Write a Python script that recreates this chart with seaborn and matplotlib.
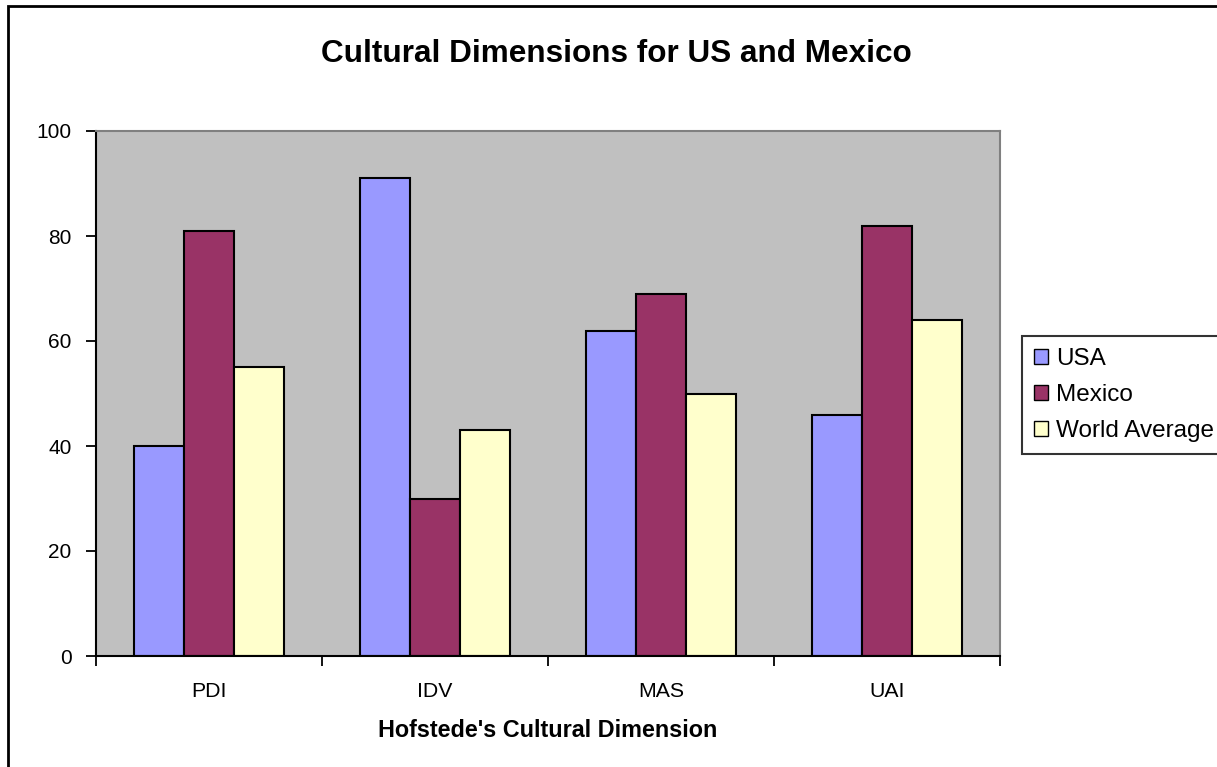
import matplotlib
matplotlib.use("Agg")
import matplotlib.pyplot as plt
from matplotlib.patches import Rectangle
import seaborn as sns
import pandas as pd

categories = ["PDI", "IDV", "MAS", "UAI"]
usa = [40, 91, 62, 46]
mexico = [81, 30, 69, 82]
world_avg = [55, 43, 50, 64]
series_names = ["USA", "Mexico", "World Average"]
colors = ["#9999FF", "#993366", "#FFFFCC"]
yticks = [0, 20, 40, 60, 80, 100]

rows = []
for name, vals in zip(series_names, [usa, mexico, world_avg]):
    for c, v in zip(categories, vals):
        rows.append({"Dimension": c, "Country": name, "Score": v})
df = pd.DataFrame(rows)

plt.rcParams["font.family"] = ["Liberation Sans", "DejaVu Sans"]

W, H = 1217, 767
fig = plt.figure(figsize=(W / 100, H / 100), dpi=100)
fig.patch.set_facecolor("white")
ax = fig.add_axes([96 / W, 1 - 656 / H, (1000 - 96) / W, (656 - 131) / H])
ax.set_facecolor("#C0C0C0")

sns.barplot(data=df, x="Dimension", y="Score", hue="Country", order=categories,
            hue_order=series_names, palette=colors, width=0.664,
            edgecolor="black", linewidth=1.5, saturation=1, ax=ax, errorbar=None)

handles, labels = ax.get_legend_handles_labels()
if ax.get_legend() is not None:
    ax.get_legend().remove()

ax.set_xlim(-0.5, 3.5)
ax.set_ylim(0, 100)
ax.set_yticks(yticks)
ax.set_yticklabels([str(t) for t in yticks], fontsize=15)
ax.set_xticks([-0.5, 0.5, 1.5, 2.5, 3.5])
ax.set_xticklabels([])
ax.set_xticks([0, 1, 2, 3], minor=True)
ax.set_xticklabels(categories, minor=True, fontsize=15.3)
ax.tick_params(axis="x", which="major", direction="out", length=7.5, width=1.3, color="black")
ax.tick_params(axis="x", which="minor", length=0, pad=19)
ax.tick_params(axis="y", direction="out", length=7.5, width=1.3, color="black", pad=10)
ax.set_xlabel("")
ax.set_ylabel("")
for s in ["left", "bottom"]:
    ax.spines[s].set_color("black")
    ax.spines[s].set_linewidth(1.5)
for s in ["top", "right"]:
    ax.spines[s].set_color("#808080")
    ax.spines[s].set_linewidth(1.5)
ax.grid(False)

fig.text(616.5 / W, 1 - 62 / H, "Cultural Dimensions for US and Mexico",
         ha="center", va="baseline", fontsize=22.7, fontweight="bold")
fig.text(548 / W, 1 - 737 / H, "Hofstede's Cultural Dimension",
         ha="center", va="baseline", fontsize=16.8, fontweight="bold")

leg = fig.legend(handles, labels, loc="upper left",
                 bbox_to_anchor=(1022 / W, 1 - 336 / H), bbox_transform=fig.transFigure,
                 frameon=True, fancybox=False, fontsize=17.5, handlelength=0.55,
                 handleheight=0.55, handletextpad=0.35, labelspacing=0.57,
                 borderpad=0.5, borderaxespad=0)
leg.get_frame().set_edgecolor("black")
leg.get_frame().set_linewidth(1.5)
for h in leg.legend_handles:
    h.set_edgecolor("black")
    h.set_linewidth(1.0)

fig.patches.append(Rectangle((8 / W, -0.1), 2.0, 1.1 - 6 / H, transform=fig.transFigure,
                             fill=False, edgecolor="black", linewidth=2.0))

fig.savefig("out.png", dpi=100)
